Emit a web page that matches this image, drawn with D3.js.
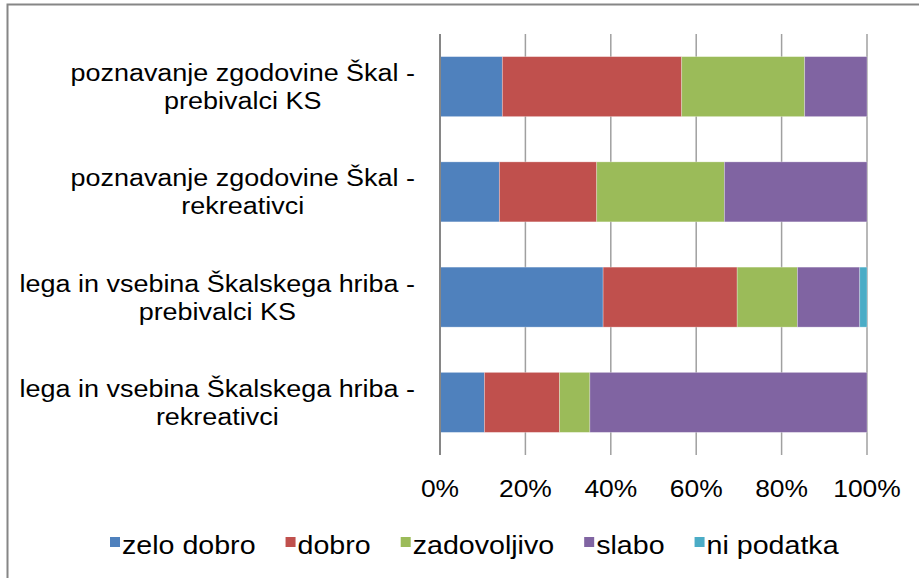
<!DOCTYPE html>
<html>
<head>
<meta charset="utf-8">
<script src="https://cdn.jsdelivr.net/npm/d3@7"></script>
<style>
  body { margin: 0; background: #fff; }
  text { font-family: "Liberation Sans", Arial, sans-serif; fill: #000; }
</style>
</head>
<body>
<svg width="919" height="578"></svg>
<script>
// categories, top to bottom
var categories = [
    'poznavanje zgodovine Škal - prebivalci KS',
    'poznavanje zgodovine Škal - rekreativci',
    'lega in vsebina Škalskega hriba - prebivalci KS',
    'lega in vsebina Škalskega hriba - rekreativci'
];

// series names and shares (%) per category
var seriesNames = ['zelo dobro', 'dobro', 'zadovoljivo', 'slabo', 'ni podatka'];
var zeloDobro   = [14.6, 13.9, 38.2, 10.4];
var dobro       = [42.0, 22.8, 31.4, 17.6];
var zadovoljivo = [28.8, 29.9, 14.1, 7.1];
var slabo       = [14.6, 33.4, 14.6, 64.9];
var niPodatka   = [0, 0, 1.7, 0];

var tickValues = [0, 20, 40, 60, 80, 100];

var colors = ['#4F81BD', '#C0504D', '#9BBB59', '#8064A2', '#4BACC6'];

var svg = d3.select('svg');
var sx = 1.1; // text is a bit wider than normal in the picture

//build the table the stack layout wants
var table = categories.map(function(c, i) {
    return {
        cat: c,
        'zelo dobro': zeloDobro[i],
        'dobro': dobro[i],
        'zadovoljivo': zadovoljivo[i],
        'slabo': slabo[i],
        'ni podatka': niPodatka[i]
    };
});
var stacked = d3.stack().keys(seriesNames)(table);

var plot = {l: 440, r: 867, t: 34, b: 455};

var x = d3.scaleLinear().domain([0, 100]).range([plot.l, plot.r]);
var y = d3.scaleBand().domain(categories).range([plot.t, plot.b])
    .paddingInner(0.43).paddingOuter(0.215);

//helper to place stretched text
function addText(g, str, px, py, anchor, size) {
    return g.append('text')
        .attr('transform', 'translate(' + px + ',' + py + ') scale(' + sx + ',1)')
        .attr('text-anchor', anchor || 'start')
        .style('font-size', size + 'px')
        .text(str);
}

//outer chart border
svg.append('rect')
    .attr('x', 7.5).attr('y', 4.5)
    .attr('width', 1000).attr('height', 1000)
    .attr('fill', 'none')
    .attr('stroke', '#868686')
    .attr('stroke-width', 2);

//vertical gridlines
svg.append('g').selectAll('line')
    .data(tickValues.slice(1))
    .enter().append('line')
    .attr('x1', function(d) { return x(d); })
    .attr('x2', function(d) { return x(d); })
    .attr('y1', plot.t).attr('y2', plot.b)
    .attr('stroke', '#a0a0a0')
    .attr('stroke-width', 1.5);

//bars
svg.append('g').selectAll('g')
    .data(stacked)
    .enter().append('g')
    .attr('fill', function(d, i) { return colors[i]; })
    .selectAll('rect')
    .data(function(d) { return d; })
    .enter().append('rect')
    .attr('x', function(d) { return x(d[0]); })
    .attr('width', function(d) { return x(d[1]) - x(d[0]); })
    .attr('y', function(d) { return y(d.data.cat); })
    .attr('height', y.bandwidth())
    .attr('stroke', 'rgba(255,255,255,0.35)')
    .attr('stroke-width', 0.8);

//category axis line
svg.append('line')
    .attr('x1', x(0)).attr('x2', x(0))
    .attr('y1', plot.t).attr('y2', plot.b)
    .attr('stroke', '#868686')
    .attr('stroke-width', 2);

//percentage tick labels
var tickG = svg.append('g');
tickValues.forEach(function(v) {
    addText(tickG, v + '%', x(v), 497, 'middle', 24);
});

//category labels, split in two lines, block right aligned and lines centred
var labelG = svg.append('g');
var labelRight = 415;
var lineGap = 28;
categories.forEach(function(c) {
    var parts = c.split(' - ');
    var lines = [parts[0] + ' -', parts[1]];
    var texts = lines.map(function(l) { return addText(labelG, l, 0, 0, 'middle', 24.5); });
    var maxW = d3.max(texts, function(t) { return t.node().getComputedTextLength(); }) * sx;
    var cx = labelRight - maxW / 2;
    var cy = y(c) + y.bandwidth() / 2;
    texts.forEach(function(t, i) {
        var py = cy - lineGap / 2 + 8.5 + i * lineGap;
        t.attr('transform', 'translate(' + cx + ',' + py + ') scale(' + sx + ',1)');
    });
});

//legend
var legendG = svg.append('g');
var lx = 110;
seriesNames.forEach(function(name, i) {
    legendG.append('rect')
        .attr('x', lx).attr('y', 537)
        .attr('width', 10).attr('height', 10)
        .attr('fill', colors[i]);
    var t = addText(legendG, name, lx + 12, 554, 'start', 26);
    lx += 12 + t.node().getComputedTextLength() * sx + 30;
});
</script>
</body>
</html>
